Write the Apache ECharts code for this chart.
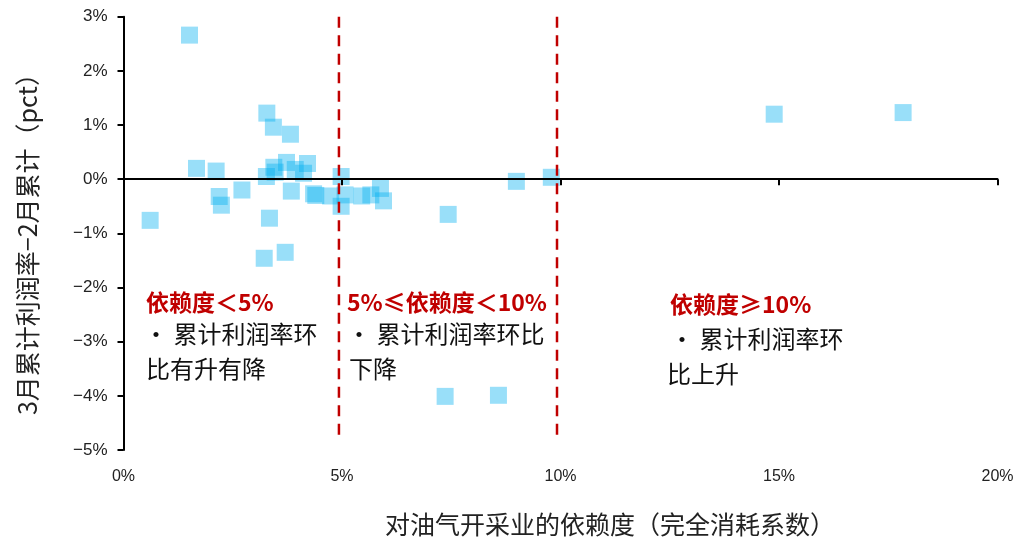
<!DOCTYPE html>
<html>
<head>
<meta charset="utf-8">
<script src="https://cdn.jsdelivr.net/npm/echarts@6/dist/echarts.min.js"></script>
<style>
  html, body { margin: 0; padding: 0; background: #fff; }
  #chart { width: 1035px; height: 545px; }
</style>
</head>
<body>
<div id="chart"></div>
<script>
// Dependence on oil & gas extraction (complete consumption coefficient, %)
const dependence = [
  1.51, 3.28, 3.43, 3.82, 1.67, 2.12, 3.27, 3.44, 3.47, 3.73,
  3.93, 4.12, 4.21, 4.98, 0.61, 2.19, 2.24, 2.71, 3.84, 3.34,
  3.22, 3.70, 4.35, 4.40, 4.74, 4.98, 5.07, 5.45, 5.66, 5.88,
  5.95, 7.43, 7.36, 8.58, 8.99, 9.79, 14.89, 17.84
];
// Change in cumulative profit margin, March vs February (pct)
const marginChange = [
  2.66, 1.22, 0.96, 0.83, 0.20, 0.15, 0.05, 0.22, 0.13, 0.31,
  0.18, 0.11, 0.29, 0.05, -0.76, -0.32, -0.48, -0.20, -0.22, -0.72,
  -1.46, -1.35, -0.27, -0.30, -0.31, -0.50, -0.29, -0.31, -0.29, -0.17,
  -0.40, -0.65, -4.01, -3.99, -0.04, 0.035, 1.20, 1.23
];

// Axis ranges and ticks
const xTicks = [0, 5, 10, 15, 20];
const yTicks = [-5, -4, -3, -2, -1, 0, 1, 2, 3];

// Zone dividers (dashed red lines) and their vertical extent
const dividerX = [4.93, 9.92];
const dividerSpan = [3, -4.75];

// Zone annotations
const zoneTitles = ['依赖度＜5%', '5%≤依赖度＜10%', '依赖度≥10%'];
const zoneLine1 = ['• 累计利润率环', '• 累计利润率环比', '• 累计利润率环'];
const zoneLine2 = ['比有升有降', '下降', '比上升'];

const xAxisName = '对油气开采业的依赖度（完全消耗系数）';
const yAxisName = '3月累计利润率−2月累计（pct）';

const points = dependence.map((x, i) => [x, marginChange[i]]);
const pct = v => (v < 0 ? '−' + Math.abs(v) : v) + '%';

const chart = echarts.init(document.getElementById('chart'), null, { renderer: 'canvas' });

const zoneLayout = [
  { title: [146, 302], l1: [144, 334], l2: [146, 369] },
  { title: [347, 302], l1: [347, 334], l2: [349, 369] },
  { title: [670, 304], l1: [670, 339], l2: [667, 374] }
];

const bodyFont = '24px "Noto Sans CJK SC", sans-serif';
const graphics = [];
zoneLayout.forEach((p, i) => {
  graphics.push({
    type: 'text', x: p.title[0], y: p.title[1], z: 10,
    style: { text: zoneTitles[i], fill: '#C00000', font: 'bold 23px "Noto Sans CJK SC", sans-serif',
             textAlign: 'left', textVerticalAlign: 'middle' }
  });
  graphics.push({
    type: 'text', x: p.l1[0], y: p.l1[1], z: 10,
    style: { text: zoneLine1[i], fill: '#111', font: bodyFont,
             textAlign: 'left', textVerticalAlign: 'middle' }
  });
  graphics.push({
    type: 'text', x: p.l2[0], y: p.l2[1], z: 10,
    style: { text: zoneLine2[i], fill: '#111', font: bodyFont,
             textAlign: 'left', textVerticalAlign: 'middle' }
  });
});
graphics.push({
  type: 'text', x: 610, y: 524, z: 10,
  style: { text: xAxisName, fill: '#222', font: '25px "Noto Sans CJK SC", sans-serif',
           textAlign: 'center', textVerticalAlign: 'middle' }
});
graphics.push({
  type: 'text', x: 27, y: 238, rotation: Math.PI / 2, z: 10,
  style: { text: yAxisName, fill: '#222', font: '25px "Noto Sans CJK SC", sans-serif',
           textAlign: 'center', textVerticalAlign: 'middle' }
});

const dividerSeries = dividerX.map(x => ({
  type: 'line',
  xAxisIndex: 0,
  data: dividerSpan.map(y => [x, y]),
  showSymbol: false,
  symbol: 'none',
  silent: true,
  z: 6,
  lineStyle: { color: '#C00000', width: 2.5, type: [11, 7.5] }
}));

const tickFont = '"Liberation Sans", Arial, sans-serif';

chart.setOption({
  animation: false,
  backgroundColor: '#fff',
  grid: { left: 123.5, right: 37.5, top: 16.7, bottom: 95, containLabel: false },
  xAxis: [
    {
      type: 'value', min: xTicks[0], max: xTicks[xTicks.length - 1], interval: 5,
      position: 'bottom', z: 4,
      axisLine: { show: true, onZero: true, lineStyle: { color: '#000', width: 2 } },
      axisTick: { show: true, inside: false, length: 6, lineStyle: { color: '#000', width: 2 } },
      axisLabel: { show: false },
      splitLine: { show: false }
    },
    {
      type: 'value', min: xTicks[0], max: xTicks[xTicks.length - 1], interval: 5,
      position: 'bottom',
      axisLine: { show: false, onZero: false },
      axisTick: { show: false },
      axisLabel: { show: true, margin: 19, formatter: pct, color: '#222',
                   fontSize: 16, fontFamily: tickFont },
      splitLine: { show: false }
    }
  ],
  yAxis: {
    type: 'value', min: yTicks[0], max: yTicks[yTicks.length - 1], interval: 1,
    axisLine: { show: true, onZero: false, lineStyle: { color: '#000', width: 2 } },
    axisTick: { show: true, inside: false, length: 6, lineStyle: { color: '#000', width: 2 } },
    axisLabel: { margin: 16, formatter: pct, color: '#222',
                 fontSize: 17, fontFamily: tickFont },
    splitLine: { show: false }
  },
  series: [
    {
      type: 'scatter',
      xAxisIndex: 0,
      data: points,
      symbol: 'rect',
      symbolSize: 17,
      z: 3,
      itemStyle: { color: 'rgba(0,176,240,0.5)' }
    }
  ].concat(dividerSeries),
  graphic: graphics
});
</script>
</body>
</html>
